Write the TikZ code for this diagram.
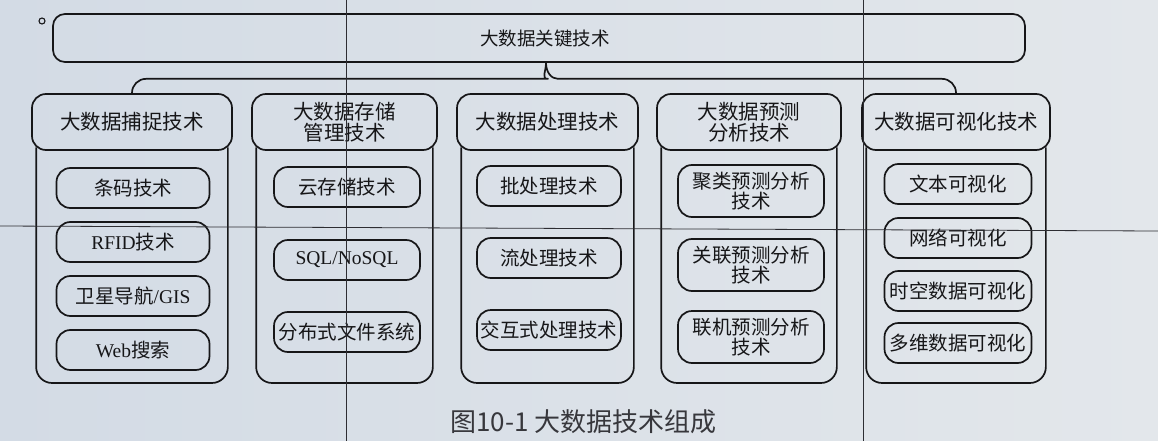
\documentclass[tikz,border=0pt]{standalone}
\usepackage{fontspec}
\setmainfont{Liberation Serif}
\newfontfamily\cjk{Noto Sans CJK SC}
\definecolor{bgL}{RGB}{211,219,229}
\definecolor{bgR}{RGB}{227,231,235}
\definecolor{ink}{RGB}{22,22,24}
\definecolor{seam}{RGB}{45,45,50}
\definecolor{captext}{RGB}{55,55,60}
\begin{document}
\begin{tikzpicture}[x=1pt,y=-1pt,
  conn/.style={draw=ink,line width=1.7pt,line join=round},
  box/.style={draw=ink,line width=1.7pt,rounded corners=14pt,inner sep=0pt,align=center,text=ink},
  head/.style={box,minimum height=56pt,font=\cjk\fontsize{20.5}{21.5}\selectfont},
  item/.style={box,minimum height=40pt,font=\cjk\fontsize{19.5}{20.5}\selectfont},
  itemtwo/.style={item,minimum height=52pt},
  seamline/.style={draw=seam,line width=0.8pt}
]
\useasboundingbox (0,0) rectangle (1158,441);
\shade[left color=bgL,right color=bgR] (0,0) rectangle (1158,441);

% small mark
\draw[ink,line width=1.1pt] (42,21) circle[radius=3pt];

% top box
\node[box,rounded corners=12pt,minimum width=972pt,minimum height=48pt,
      font=\cjk\fontsize{18.5}{20}\selectfont] (top) at (539,38) {\hspace*{12pt}大数据关键技术};

% column headers
\node[head,minimum width=200pt] (h1) at (132,122) {大数据捕捉技术};
\node[head,minimum width=185pt] (h2) at (344.5,122) {大数据存储\\管理技术};
\node[head,minimum width=181pt] (h3) at (547.5,122) {大数据处理技术};
\node[head,minimum width=184pt] (h4) at (749,122) {大数据预测\\分析技术};
\node[head,minimum width=188pt] (h5) at (956,122) {大数据可视化技术};

% brace
\coordinate (tip) at ([xshift=7pt]top.south);
\coordinate (brL) at ([xshift=-12pt,yshift=-16pt]tip);
\coordinate (brR) at ([xshift=12pt,yshift=-16pt]tip);
\draw[conn] (h1.north) [rounded corners=14pt] |- (brL) [sharp corners]
  .. controls ([xshift=7pt]brL) and ([yshift=-9pt]tip) .. (tip)
  .. controls ([yshift=-9pt]tip) and ([xshift=-7pt]brR) .. (brR)
  [rounded corners=14pt] -| (h5.north);

% column bodies
\coordinate (bot) at (0,383);
\foreach \h in {h1,h2,h3,h4,h5}{
  \path ([xshift=5pt,yshift=3.4pt]\h.south west) coordinate (\h a)
        ([xshift=-5pt,yshift=3.4pt]\h.south east) coordinate (\h b);
  \draw[conn,rounded corners=16pt] (\h a) -- (\h a |- bot) -- (\h b |- bot) -- (\h b);
}

% column 1 items
\node[item,minimum width=153pt] (c1a) at (133,188) {条码技术};
\node[item,minimum width=153pt] (c1b) at (133,242) {{\rmfamily RFID}技术};
\node[item,minimum width=153pt] (c1c) at (133,296) {卫星导航{\rmfamily /GIS}};
\node[item,minimum width=153pt] (c1d) at (133,350) {{\rmfamily Web}搜索};

% column 2 items
\node[item,minimum width=146pt] (c2a) at (347,187) {云存储技术};
\node[item,minimum width=146pt] (c2b) at (347,260) {\rmfamily SQL/NoSQL};
\node[item,minimum width=146pt] (c2c) at (347,332) {分布式文件系统};

% column 3 items
\node[item,minimum width=144pt] (c3a) at (549,186) {批处理技术};
\node[item,minimum width=144pt] (c3b) at (549,258) {流处理技术};
\node[item,minimum width=144pt] (c3c) at (549,330) {交互式处理技术};

% column 4 items
\node[itemtwo,minimum width=146pt] (c4a) at (751,191) {聚类预测分析\\技术};
\node[itemtwo,minimum width=146pt] (c4b) at (751,265) {关联预测分析\\技术};
\node[itemtwo,minimum width=146pt] (c4c) at (751,337) {联机预测分析\\技术};

% column 5 items
\node[item,minimum width=147pt] (c5a) at (958,184) {文本可视化};
\node[item,minimum width=147pt] (c5b) at (958,238) {网络可视化};
\node[item,minimum width=147pt] (c5c) at (958,291) {时空数据可视化};
\node[item,minimum width=147pt] (c5d) at (958,343) {多维数据可视化};

% caption
\node[font=\cjk\fontsize{26}{28}\selectfont,text=captext] (cap) at (583.5,422) {图10-1 大数据技术组成};

% screen seams visible in the photo
\draw[seamline] (346,0) -- (346,441);
\draw[seamline] (863,0) -- (863,441);
\draw[seamline] (0,226) -- (1158,231);
\end{tikzpicture}
\end{document}
